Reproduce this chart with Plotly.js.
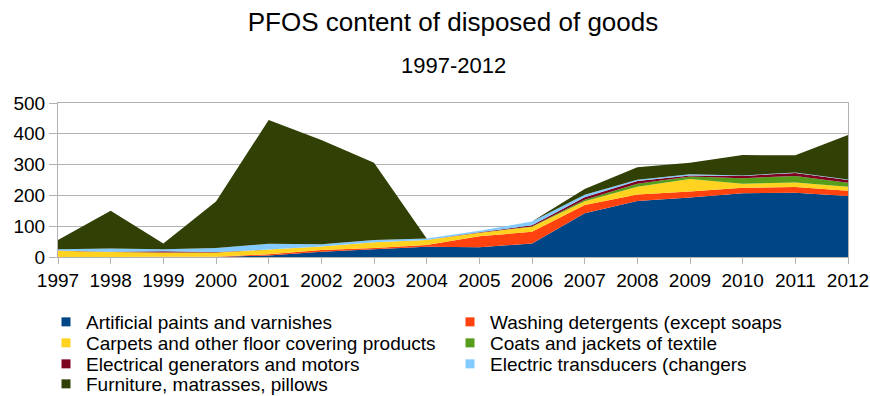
<!DOCTYPE html>
<html>
<head>
<meta charset="utf-8">
<script src="https://cdn.plot.ly/plotly-3.0.1.min.js"></script>
<style>html,body{margin:0;padding:0;background:#fff;}#chart{width:870px;height:396px;}</style>
</head>
<body>
<div id="chart"></div>
<script>
const years = [1997,1998,1999,2000,2001,2002,2003,2004,2005,2006,2007,2008,2009,2010,2011,2012];
const seriesNames = [
  "Artificial paints and varnishes",
  "Washing detergents (except soaps",
  "Carpets and other floor covering products",
  "Coats and jackets of textile",
  "Electrical generators and motors",
  "Electric transducers (changers",
  "Furniture, matrasses, pillows"
];
const paints      = [0, 0, 0, 0, 5, 17, 25, 33, 32, 44, 142, 182, 193, 207, 209, 198];
const detergents  = [0, 0, 1, 1, 4, 6, 4, 6, 35, 38, 27, 21, 20, 18, 18, 17];
const carpets     = [20, 16, 14, 14, 15, 11, 19, 16, 12, 16, 12, 25, 40, 13, 15, 13];
const coats       = [0, 0, 0, 0, 0, 0, 0, 0, 0, 1, 5, 10, 8, 18, 21, 13];
const generators  = [1, 1, 4, 1, 0, 0, 0, 0, 1, 4, 8, 9, 4, 7, 10, 9];
const transducers = [4, 11, 6, 13, 19, 7, 7, 5, 5, 12, 8, 4, 4, 2, 1, 2];
const furniture   = [30, 122, 19, 151, 402, 339, 251, 0, 0, 0, 19, 40, 37, 66, 56, 144];
const yTicks = [0, 100, 200, 300, 400, 500];

const colors = ["#004586", "#ff420e", "#ffd320", "#579d1c", "#7e0021", "#83caff", "#314004"];
const values = [paints, detergents, carpets, coats, generators, transducers, furniture];
const legendIds = values.map((v, i) => i === 0 ? "legend" : "legend" + (i + 1));

// stacked areas (legend keys are drawn by the empty marker traces below)
const areaTraces = values.map((v, i) => ({
  type: "scatter",
  x: years,
  y: v,
  name: seriesNames[i],
  legendgroup: "g" + i,
  showlegend: false,
  stackgroup: "one",
  mode: "none",
  fillcolor: colors[i],
  line: {width: 0}
}));
const keyTraces = values.map((v, i) => ({
  type: "scatter",
  x: [null],
  y: [null],
  name: seriesNames[i],
  legendgroup: "g" + i,
  legend: legendIds[i],
  mode: "markers",
  marker: {symbol: "square", size: 9, color: colors[i]},
  hoverinfo: "skip"
}));

const font = "Liberation Sans, Arial, sans-serif";
const legendFont = {size: 19, family: font, color: "#000"};
const rowCenters = [322, 343, 364, 384];
const colLefts = [46, 450];
function mkLegend(i) {
  const row = Math.floor(i / 2), col = i % 2;
  return {
    orientation: "h",
    xref: "container", yref: "container",
    x: colLefts[col] / 870, xanchor: "left",
    y: 1 - rowCenters[row] / 396, yanchor: "middle",
    font: legendFont, bgcolor: "rgba(0,0,0,0)", borderwidth: 0
  };
}

const layout = {
  width: 870, height: 396,
  paper_bgcolor: "#fff", plot_bgcolor: "#fff",
  margin: {l: 58, r: 22, t: 103, b: 139},
  font: {family: font, color: "#000", size: 19},
  title: {text: "PFOS content of disposed of goods", font: {size: 26, family: font, color: "#000"},
          x: 0.5, xanchor: "center", xref: "paper", y: 1 - 22/396, yanchor: "middle", yref: "container"},
  annotations: [{text: "1997-2012", xref: "paper", yref: "paper", x: 0.5, y: (257 - 65) / 154,
                 xanchor: "center", yanchor: "middle", showarrow: false, font: {size: 22, family: font, color: "#000"}}],
  xaxis: {
    range: [1997, 2012], tickmode: "array", tickvals: years, ticktext: years.map(String),
    showgrid: false, showline: true, linecolor: "#b3b3b3", linewidth: 1, mirror: true,
    ticks: "outside", ticklen: 6, tickcolor: "#b3b3b3", zeroline: false,
    tickfont: {size: 19, family: font, color: "#000"}
  },
  yaxis: {
    range: [0, 500], tickmode: "array", tickvals: yTicks, ticktext: yTicks.map(String),
    showgrid: true, gridcolor: "#b3b3b3", gridwidth: 1,
    showline: true, linecolor: "#b3b3b3", linewidth: 1, mirror: true,
    ticks: "outside", ticklen: 8, tickcolor: "#b3b3b3", zeroline: false,
    tickfont: {size: 19, family: font, color: "#000"}
  },
  showlegend: true
};
legendIds.forEach((id, i) => { layout[id] = mkLegend(i); });

Plotly.newPlot("chart", areaTraces.concat(keyTraces), layout, {displayModeBar: false, staticPlot: true});
</script>
</body>
</html>
